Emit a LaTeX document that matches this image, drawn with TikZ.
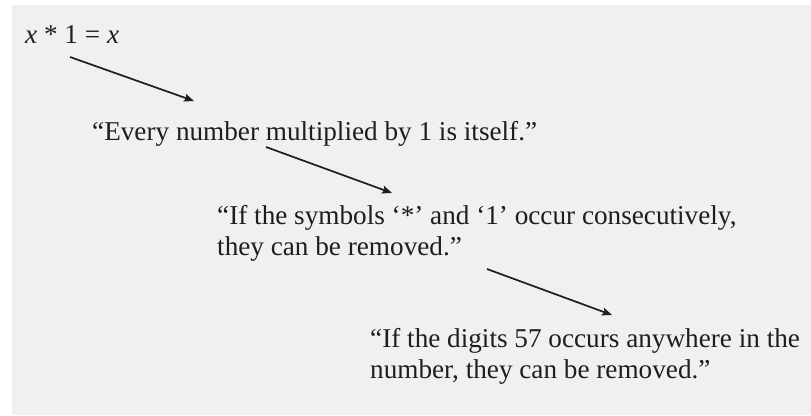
\documentclass[tikz,border=0pt]{standalone}
\usepackage{fontspec}
\setmainfont{Liberation Serif}
\usetikzlibrary{arrows.meta}
\definecolor{paper}{RGB}{240,240,240}
\definecolor{ink}{RGB}{30,30,30}
\tikzset{
  >={Stealth[length=10bp,width=8bp,inset=2bp]},
  say/.style={anchor=base west,inner sep=0pt,text=ink,align=left,
    font=\fontsize{27.3}{31}\selectfont},
  step arrow/.style={->,line width=1.7bp,draw=ink},
}
\begin{document}
\begin{tikzpicture}[x=1bp,y=-1bp]
  \useasboundingbox (0,0) rectangle (811,415);
  \fill[paper] (12,5) rectangle (811,415);
  % the rule and its readings (base = last line)
  \node[say] (rule) at (25,43) {\textit{x} * 1 = \textit{x}};
  \node[say] (every) at (92,140) {“Every number multiplied by 1 is itself.”};
  \node[say] (symbols) at (217,255) {“If the symbols ‘*’ and ‘1’ occur consecutively,\\they can be removed.”};
  \node[say] (digits) at (370,378) {“If the digits 57 occurs anywhere in the\\number, they can be removed.”};
  \coordinate (r1) at (70,57);   \coordinate (r2) at (194,101);
  \coordinate (e1) at (266,147); \coordinate (e2) at (392,193);
  \coordinate (s1) at (487,269); \coordinate (s2) at (612,315);
  \draw[step arrow] (r1) -- (r2);
  \draw[step arrow] (e1) -- (e2);
  \draw[step arrow] (s1) -- (s2);
\end{tikzpicture}
\end{document}
